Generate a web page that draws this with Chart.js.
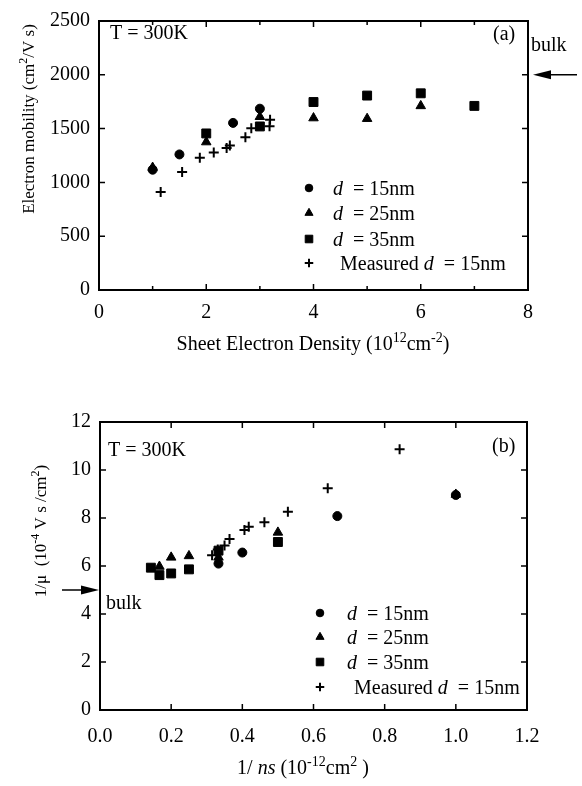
<!DOCTYPE html>
<html>
<head>
<meta charset="utf-8">
<script src="https://cdn.jsdelivr.net/npm/chart.js@4"></script>
<style>
html, body { margin: 0; padding: 0; background: #fff; }
#wrap { position: relative; width: 582px; height: 786px; }
canvas { position: absolute; left: 0; }
#chartA { top: 0; }
#chartB { top: 393px; }
</style>
</head>
<body>
<div id="wrap">
  <canvas id="chartA" width="582" height="393"></canvas>
  <canvas id="chartB" width="582" height="393"></canvas>
</div>
<script>
const SERIF = '"Liberation Serif", "DejaVu Serif", "Times New Roman", serif';

// ---- (a) electron mobility vs sheet electron density ----
const nsD15 = [1, 1.5, 2.5, 3];
const muD15 = [1118, 1260, 1553, 1685];
const nsD25 = [1, 2, 3, 4, 5, 6];
const muD25 = [1138, 1375, 1610, 1598, 1592, 1711];
const nsD35 = [2, 3, 4, 5, 6, 7];
const muD35 = [1455, 1520, 1747, 1807, 1828, 1711];
const nsMeas = [1.15, 1.55, 1.88, 2.14, 2.38, 2.44, 2.73, 2.84, 3.18, 3.19];
const muMeas = [911, 1096, 1230, 1279, 1320, 1344, 1419, 1503, 1523, 1583];
const muBulk = 2000;

// ---- (b) inverse mobility vs inverse sheet density ----
const invNsD15 = [0.333, 0.4, 0.667, 1.0];
const invMuD15 = [6.1, 6.56, 8.08, 8.96];
const invNsD25 = [0.167, 0.2, 0.25, 0.333, 0.5, 1.0];
const invMuD25 = [5.98, 6.36, 6.42, 6.36, 7.4, 8.98];
const invNsD35 = [0.143, 0.167, 0.2, 0.25, 0.333, 0.5];
const invMuD35 = [5.93, 5.62, 5.69, 5.86, 6.64, 7.0];
const invNsMeas = [0.315, 0.331, 0.35, 0.364, 0.406, 0.418, 0.462, 0.528, 0.64, 0.842];
const invMuMeas = [6.45, 6.69, 6.85, 7.12, 7.5, 7.64, 7.82, 8.26, 9.24, 10.86];
const invMuBulk = 5.0;

const seriesNames = ['d = 15nm', 'd = 25nm', 'd = 35nm', 'Measured d = 15nm'];

const pts = (xs, ys) => xs.map((x, i) => ({ x: x, y: ys[i] }));

const marker = {
  circle:   { pointStyle: 'circle',   radius: 4.5, borderWidth: 1 },
  triangle: { pointStyle: 'triangle', radius: 5.5, borderWidth: 1 },
  rect:     { pointStyle: 'rect',     radius: 6.3, borderWidth: 1 },
  cross:    { pointStyle: 'cross',    radius: 5,   borderWidth: 2 }
};
const styleOrder = ['circle', 'triangle', 'rect', 'cross'];

function makeDataset(label, data, st) {
  const m = marker[st];
  return {
    label: label,
    data: data,
    pointStyle: m.pointStyle,
    pointRadius: m.radius,
    pointBorderWidth: m.borderWidth,
    backgroundColor: '#000',
    borderColor: '#000',
    showLine: false
  };
}

// draw a line of text with italic / superscript parts
function richText(ctx, parts, x, y, size, align, angle) {
  const fontOf = st => (st === 'i' ? 'italic ' : '') + (st === 's' ? Math.round(size * 0.68) : size) + 'px ' + SERIF;
  let w = 0;
  parts.forEach(([t, st]) => { ctx.font = fontOf(st); w += ctx.measureText(t).width; });
  ctx.save();
  ctx.translate(x, y);
  ctx.rotate(angle || 0);
  ctx.fillStyle = '#000';
  ctx.textAlign = 'left';
  ctx.textBaseline = 'alphabetic';
  let cx = align === 'center' ? -w / 2 : 0;
  parts.forEach(([t, st]) => {
    ctx.font = fontOf(st);
    ctx.fillText(t, cx, st === 's' ? size * 0.35 - size * 0.42 : size * 0.35);
    cx += ctx.measureText(t).width;
  });
  ctx.restore();
}

function legendParts(name) {
  const i = name.indexOf('d =');
  const pre = name.slice(0, i);
  const parts = [];
  if (pre) parts.push([pre, '']);
  parts.push(['d', 'i']);
  parts.push([' ' + name.slice(i + 1), '']);
  return parts;
}

function arrow(ctx, x1, x2, y) {
  // line from x1 to x2, head at x2
  const dir = x2 > x1 ? 1 : -1;
  ctx.save();
  ctx.strokeStyle = '#000';
  ctx.fillStyle = '#000';
  ctx.lineWidth = 1.5;
  ctx.beginPath();
  ctx.moveTo(x1, y);
  ctx.lineTo(x2 - dir * 10, y);
  ctx.stroke();
  ctx.beginPath();
  ctx.moveTo(x2, y);
  ctx.lineTo(x2 - dir * 18, y - 4.5);
  ctx.lineTo(x2 - dir * 18, y + 4.5);
  ctx.closePath();
  ctx.fill();
  ctx.restore();
}

function decorPlugin(cfg) {
  return {
    id: 'decor',
    afterDraw(chart) {
      const ctx = chart.ctx;
      const a = chart.chartArea;
      const xs = chart.scales.x;
      const ys = chart.scales.y;
      ctx.save();
      ctx.strokeStyle = '#000';
      ctx.lineWidth = 2;
      ctx.strokeRect(a.left, a.top, a.right - a.left, a.bottom - a.top);

      // inward ticks on all four sides
      ctx.lineWidth = 1.5;
      ctx.beginPath();
      const xVals = xs.ticks.map(t => t.value);
      xVals.forEach(v => {
        const px = xs.getPixelForValue(v);
        ctx.moveTo(px, a.bottom); ctx.lineTo(px, a.bottom - 6);
        ctx.moveTo(px, a.top); ctx.lineTo(px, a.top + 6);
      });
      if (cfg.minorX) {
        for (let i = 0; i < xVals.length - 1; i++) {
          const px = xs.getPixelForValue((xVals[i] + xVals[i + 1]) / 2);
          ctx.moveTo(px, a.bottom); ctx.lineTo(px, a.bottom - 4);
          ctx.moveTo(px, a.top); ctx.lineTo(px, a.top + 4);
        }
      }
      ys.ticks.forEach(t => {
        const py = ys.getPixelForValue(t.value);
        ctx.moveTo(a.left, py); ctx.lineTo(a.left + 6, py);
        ctx.moveTo(a.right, py); ctx.lineTo(a.right - 6, py);
      });
      ctx.stroke();
      ctx.restore();

      // axis titles
      richText(ctx, cfg.xTitle, cfg.xTitlePos[0], cfg.xTitlePos[1], 20, 'center', 0);
      richText(ctx, cfg.yTitle, cfg.yTitlePos[0], cfg.yTitlePos[1], 17, 'center', -Math.PI / 2);

      // legend
      cfg.legendRows.forEach((ry, i) => {
        const m = marker[styleOrder[i]];
        ctx.save();
        ctx.fillStyle = '#000';
        ctx.strokeStyle = '#000';
        ctx.lineWidth = m.borderWidth;
        Chart.helpers.drawPoint(ctx, { pointStyle: m.pointStyle, radius: m.radius * 0.85, rotation: 0, borderWidth: m.borderWidth }, cfg.legendX, ry);
        ctx.restore();
        richText(ctx, legendParts(seriesNames[i]), i === 3 ? cfg.legendTextX + 7 : cfg.legendTextX, ry, 20, 'left', 0);
      });

      // annotations
      cfg.labels.forEach(l => richText(ctx, [[l.text, '']], l.x, l.y, l.size, 'left', 0));
      const by = ys.getPixelForValue(cfg.bulk);
      arrow(ctx, cfg.arrow[0], cfg.arrow[1], by);
    }
  };
}

function makeChart(id, datasets, sc, cfg) {
  return new Chart(document.getElementById(id), {
    type: 'scatter',
    data: { datasets: datasets },
    options: {
      responsive: false,
      animation: false,
      devicePixelRatio: 1,
      layout: { padding: { top: sc.padTop, right: sc.padRight, left: 0, bottom: 0 } },
      plugins: { legend: { display: false }, tooltip: { enabled: false } },
      scales: {
        x: {
          type: 'linear', min: sc.xMin, max: sc.xMax,
          grid: { display: false, drawTicks: false },
          border: { display: false },
          ticks: {
            stepSize: sc.xStep, color: '#000', padding: sc.xPad, maxRotation: 0,
            font: { family: SERIF, size: 20 },
            callback: v => v.toFixed(sc.xDec)
          },
          afterFit: s => { s.height = sc.xHeight; }
        },
        y: {
          type: 'linear', min: sc.yMin, max: sc.yMax,
          grid: { display: false, drawTicks: false },
          border: { display: false },
          ticks: {
            stepSize: sc.yStep, color: '#000', padding: 9,
            font: { family: SERIF, size: 20 },
            callback: v => v.toFixed(0)
          },
          afterFit: s => { s.width = sc.yWidth; }
        }
      }
    },
    plugins: [decorPlugin(cfg)]
  });
}

makeChart('chartA', [
  makeDataset(seriesNames[1], pts(nsD25, muD25), 'triangle'),
  makeDataset(seriesNames[2], pts(nsD35, muD35), 'rect'),
  makeDataset(seriesNames[0], pts(nsD15, muD15), 'circle'),
  makeDataset(seriesNames[3], pts(nsMeas, muMeas), 'cross')
], {
  padTop: 10, padRight: 54, xHeight: 103, yWidth: 99,
  xMin: 0, xMax: 8, xStep: 2, xDec: 0, xPad: 11,
  yMin: 0, yMax: 2500, yStep: 500
}, {
  minorX: true,
  xTitle: [['Sheet Electron Density (10', ''], ['12', 's'], ['cm', ''], ['-2', 's'], [')', '']],
  xTitlePos: [313, 343],
  yTitle: [['Electron mobility (cm', ''], ['2', 's'], ['/V s)', '']],
  yTitlePos: [28, 119],
  legendX: 309, legendTextX: 333, legendRows: [188, 213, 239, 263],
  labels: [
    { text: 'T = 300K', x: 110, y: 32, size: 20 },
    { text: '(a)', x: 493, y: 33, size: 20 },
    { text: 'bulk', x: 531, y: 44, size: 20 }
  ],
  bulk: muBulk, arrow: [577, 533]
});

makeChart('chartB', [
  makeDataset(seriesNames[1], pts(invNsD25, invMuD25), 'triangle'),
  makeDataset(seriesNames[2], pts(invNsD35, invMuD35), 'rect'),
  makeDataset(seriesNames[0], pts(invNsD15, invMuD15), 'circle'),
  makeDataset(seriesNames[3], pts(invNsMeas, invMuMeas), 'cross')
], {
  padTop: 29, padRight: 55, xHeight: 76, yWidth: 100,
  xMin: 0, xMax: 1.2, xStep: 0.2, xDec: 1, xPad: 15,
  yMin: 0, yMax: 12, yStep: 2
}, {
  minorX: false,
  xTitle: [['1/ ', ''], ['ns', 'i'], [' (10', ''], ['-12', 's'], ['cm', ''], ['2', 's'], [' )', '']],
  xTitlePos: [303, 374],
  yTitle: [['1/\u03bc  (10', ''], ['-4', 's'], [' V s /cm', ''], ['2', 's'], [')', '']],
  yTitlePos: [40, 138],
  legendX: 320, legendTextX: 347, legendRows: [220, 244, 269, 294],
  labels: [
    { text: 'T = 300K', x: 108, y: 56, size: 20 },
    { text: '(b)', x: 492, y: 52, size: 20 },
    { text: 'bulk', x: 106, y: 209, size: 20 }
  ],
  bulk: invMuBulk, arrow: [62, 99]
});
</script>
</body>
</html>
